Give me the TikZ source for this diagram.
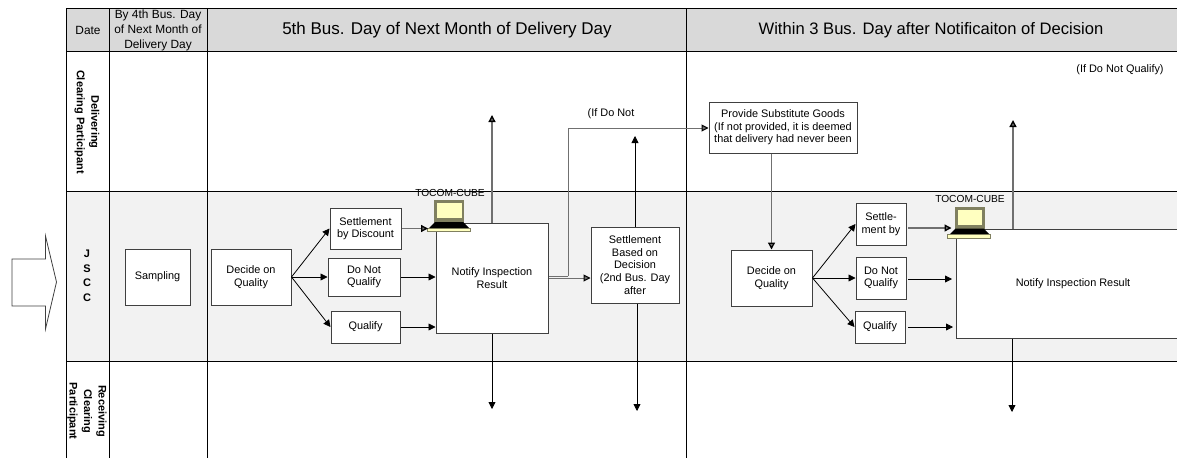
\documentclass[tikz,border=0pt]{standalone}
\usepackage{fontspec}
\setmainfont{Liberation Sans}
\usetikzlibrary{arrows.meta}
\definecolor{headgray}{HTML}{D9D9D9}
\definecolor{lanegray}{HTML}{F2F2F2}
\definecolor{boxgray}{HTML}{404040}
\definecolor{linegray}{HTML}{707070}
\definecolor{screencream}{HTML}{FFFFC0}
\definecolor{casegray}{HTML}{808060}
\tikzset{
  box/.style={draw=boxgray, fill=white, line width=1pt, align=center, inner sep=0pt,
    font=\fontsize{10.9}{12.6}\selectfont},
  note/.style={inner sep=0pt, align=center, font=\fontsize{10.9}{12.6}\selectfont},
  headtext/.style={inner sep=0pt, align=center, font=\fontsize{11.9}{15}\selectfont},
  bigtext/.style={inner sep=0pt, align=center, font=\fontsize{17}{20}\selectfont},
  cubetext/.style={inner sep=0pt, font=\fontsize{10.2}{12}\selectfont},
  lanelabel/.style={inner sep=0pt, align=center, font=\fontsize{11}{14.5}\selectfont\bfseries},
  thinline/.style={black, line width=.8pt},
  thickline/.style={linegray, line width=1.3pt},
  laptop/.pic={
    \fill[draw=casegray, fill=casegray, line width=.5pt] (-14.5,-22) rectangle (14.5,-.5);
    \fill[screencream] (-12,-19.5) rectangle (12.5,-4.5);
    \fill[black] (-14,-.5) -- (14,-.5) -- (20,5.5) -- (-20,5.5) -- cycle;
    \fill[draw=casegray, fill=screencream, line width=.5pt] (-22,5.5) rectangle (21,9);
    \coordinate (-base) at (-21,6);
    \coordinate (-hinge) at (-18,-1);
  }
}
\begin{document}
\begin{tikzpicture}[x=1pt, y=-1pt, >={Triangle[length=7pt,width=7pt,color=black]}]
  \useasboundingbox (0,0) rectangle (1177,458);
  \clip (0,0) rectangle (1177,458);
  % table
  \fill[headgray] (66,8) rectangle (1177,51);
  \fill[lanegray] (66,191) rectangle (1177,361);
  \draw[line width=.9pt] (66,8) -- (1177,8) (66,51) -- (1177,51) (66,191) -- (1177,191) (66,361) -- (1177,361)
    (66,8) -- (66,458) (109,8) -- (109,458) (207,8) -- (207,458) (686,8) -- (686,458);
  % header
  \node[headtext] (date) at (88,30) {Date};
  \node[headtext] (first) at (158,30) {By 4th Bus. Day\\of Next Month of\\Delivery Day};
  \node[bigtext] (fifth) at (447,30) {5th Bus. Day of Next Month of Delivery Day};
  \node[bigtext, font=\fontsize{16.6}{20}\selectfont] (within) at (931,30) {Within 3 Bus. Day after Notificaiton of Decision};
  % lanes
  \node[lanelabel, rotate=-90] (deliv) at (87,122) {Delivering\\Clearing Participant};
  \node[lanelabel] (jscc) at (87,276) {J\\S\\C\\C};
  \node[lanelabel, rotate=-90] (recv) at (87,411) {Receiving\\Clearing\\Participant};
  % big arrow
  \draw[draw=boxgray, fill=white, line width=.8pt] (12,259) coordinate (bigarrow) -- (45.5,259) -- (45.5,236) -- (56.5,282)
    -- (45.5,329) -- (45.5,306) -- (12,306) -- cycle;
  % boxes
  \node[box, minimum width=65pt, minimum height=56pt] (sampling) at (157.5,277) {Sampling};
  \node[box, minimum width=80pt, minimum height=56pt] (decidea) at (251,277) {Decide on\\Quality};
  \node[box, minimum width=71pt, minimum height=41pt] (discount) at (365.5,228.5) {Settlement\\by Discount};
  \node[box, minimum width=72pt, minimum height=38pt] (notqa) at (364,277) {Do Not\\Qualify};
  \node[box, minimum width=69pt, minimum height=32pt] (qualifya) at (365.5,327) {Qualify};
  \node[box, minimum width=112pt, minimum height=110pt] (notifya) at (492,278) {Notify Inspection\\Result};
  \node[box, minimum width=88pt, minimum height=76pt] (based) at (635,265) {Settlement\\Based on\\Decision\\(2nd Bus. Day\\after};
  \node[box, minimum width=148pt, minimum height=51pt] (provide) at (783,127.5) {Provide Substitute Goods\\(If not provided, it is deemed\\that delivery had never been};
  \node[box, minimum width=81pt, minimum height=56pt] (decideb) at (771.5,278) {Decide on\\Quality};
  \node[box, minimum width=50pt, minimum height=42pt] (settleb) at (881,224) {Settle-\\ment by};
  \node[box, minimum width=50pt, minimum height=42pt] (notqb) at (881,278) {Do Not\\Qualify};
  \node[box, minimum width=50pt, minimum height=32pt] (qualifyb) at (880,327) {Qualify};
  \node[box, minimum width=234pt, minimum height=109pt] (notifyb) at (1073,283.5) {Notify Inspection Result};
  % texts
  \node[note] (ifnot) at (611,114) {(If Do Not};
  \node[note] (ifnotq) at (1120,70) {(If Do Not Qualify)};
  \node[cubetext] (cubea) at (450,193) {TOCOM-CUBE};
  \node[cubetext] (cubeb) at (970,199) {TOCOM-CUBE};
  \pic (lapa) at (449,222.5) {laptop};
  \pic (lapb) at (969.5,229) {laptop};
  % free ends
  \coordinate (upa) at (492,115);
  \coordinate (downa) at (492,409);
  \coordinate (upb) at (635,136);
  \coordinate (downb) at (637,411);
  \coordinate (upc) at (1013,120);
  \coordinate (downc) at (1012,412);
  \coordinate (turn) at (568,276);
  \coordinate (startb) at (908,228);
  \coordinate (startc) at (908,279);
  \coordinate (startd) at (908,327);
  \coordinate (endc) at (952,279);
  \coordinate (endd) at (953,327);
  % arrows
  \path[->, thickline]
  (discount.east |- lapa-base) edge (lapa-base)
  (notifya.north) edge (upa)
  (provide.south -| decideb.north) edge (decideb.north)
  (notifyb.north -| upc) edge (upc)
  (startb) edge (lapb-hinge)
;
  \path[->, thinline]
  (notqa.east) edge (notifya.west |- notqa.east)
  (qualifya.east) edge (notifya.west |- qualifya.east)
  (based.north) edge (upb)
  (startc) edge (endc)
  (startd) edge (endd)
  (notifya.south) edge (downa)
  (based.south -| downb) edge (downb)
  (notifyb.south -| downc) edge (downc)
  (decidea.east) edge (discount.west)
  (decidea.east) edge (notqa.west)
  (decidea.east) edge (qualifya.west)
  (decideb.east) edge (settleb.west)
  (decideb.east) edge (notqb.west)
  (decideb.east) edge (qualifyb.west)
;
  \path[->, linegray, line width=1pt]
  (notifya.east) edge (based.west |- notifya.east)
  (turn) edge [-] (notifya.east |- turn)
  (turn) edge [to path={|- (\tikztotarget)}] (provide.west |- 0,128)
;
\end{tikzpicture}
\end{document}
